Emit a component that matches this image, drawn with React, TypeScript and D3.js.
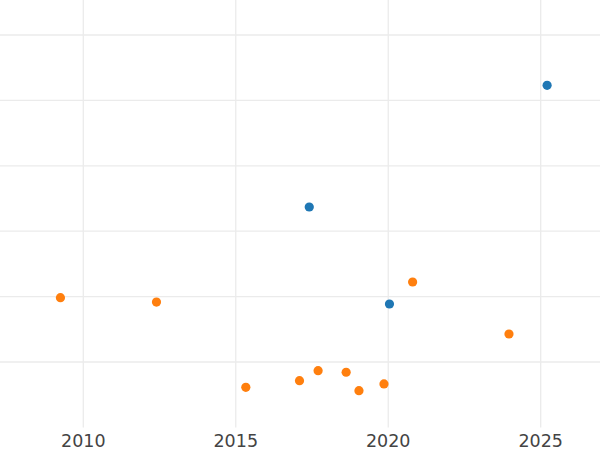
import React from "react";
import * as d3 from "d3";

const xTicks = [2010, 2015, 2020, 2025];
const yTicks = [0, 10, 20, 30, 40, 50];

const blueYears = [2017.41, 2020.04, 2025.21];
const blueValues = [23.7, 8.87, 42.3];

const orangeYears = [2009.25, 2012.4, 2015.33, 2017.09, 2017.7, 2018.62, 2019.04, 2019.86, 2020.8, 2023.96];
const orangeValues = [9.83, 9.17, -3.87, -2.86, -1.33, -1.57, -4.39, -3.36, 12.23, 4.28];

export default function App() {
  const W = 600;
  const H = 450;
  const plotBottom = 427.4;
  const x = d3.scaleLinear().domain([2010, 2025]).range([83.3, 540.7]);
  const y = d3.scaleLinear().domain([-10, 50]).range([plotBottom, 35]);

  return (
    <svg
      width={W}
      height={H}
      style={{ position: "absolute", left: 0, top: 0, background: "#fff" }}
    >
      <g>
        {yTicks.map((t) => (
          <line key={"h" + t} x1={0} x2={W} y1={y(t)} y2={y(t)} stroke="#ebebeb" strokeWidth={1.3} />
        ))}
        {xTicks.map((t) => (
          <line key={"v" + t} x1={x(t)} x2={x(t)} y1={0} y2={plotBottom} stroke="#ebebeb" strokeWidth={1.3} />
        ))}
      </g>
      <g>
        {orangeYears.map((yr, i) => (
          <circle key={"o" + i} cx={x(yr)} cy={y(orangeValues[i])} r={4.6} fill="#ff7f0e" />
        ))}
        {blueYears.map((yr, i) => (
          <circle key={"b" + i} cx={x(yr)} cy={y(blueValues[i])} r={4.6} fill="#1f77b4" />
        ))}
      </g>
      <g>
        {xTicks.map((t) => (
          <text
            key={"t" + t}
            x={x(t)}
            y={446.5}
            textAnchor="middle"
            fontFamily="DejaVu Sans"
            fontSize={17.5}
            fill="#444"
          >
            {t}
          </text>
        ))}
      </g>
    </svg>
  );
}
